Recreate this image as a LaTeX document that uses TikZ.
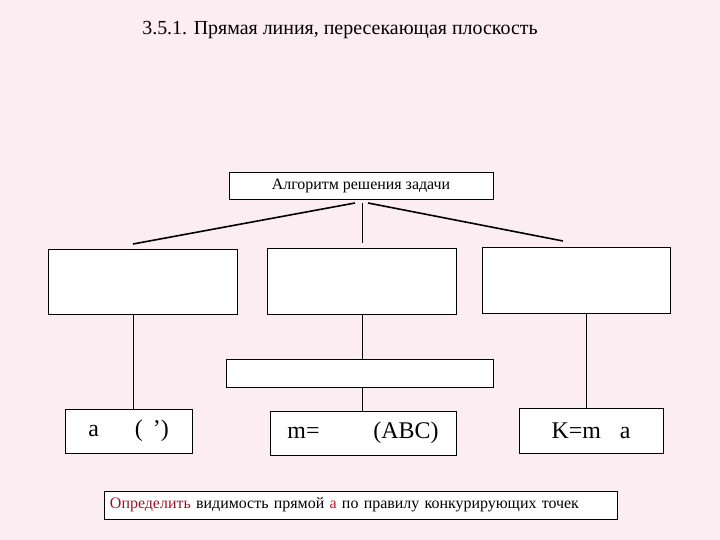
\documentclass[tikz,border=0pt]{standalone}
\usepackage{fontspec}
\setmainfont{Liberation Serif}
\usetikzlibrary{calc, positioning}
\definecolor{pagebg}{RGB}{252,237,242}
\definecolor{darkred}{RGB}{150,20,40}
\definecolor{redletter}{RGB}{200,20,40}

\begin{document}
\begin{tikzpicture}[x=1bp, y=-1bp, line width=0.8bp]
        % --- STILI ---
        \tikzset{
            box/.style={draw, rectangle, fill=white, inner sep=0pt, anchor=center},
            thinline/.style={line width=0.8bp},
            thickline/.style={line width=1.6bp},
            titletext/.style={font=\fontsize{20}{24}\selectfont},
            bigtext/.style={font=\fontsize{24}{28}\selectfont},
            smalltext/.style={font=\fontsize{16}{19}\selectfont}
        }

        % --- SFONDO ---
        \fill [pagebg] (0,0) rectangle (720,540);
        \useasboundingbox (0,0) rectangle (720,540);

        % --- TITOLO ---
        \node [titletext] (title) at (340,30) {3.5.1. Прямая линия, пересекающая плоскость};

        % --- LIVELLO 1 ---
        \node [box, smalltext, minimum width=264bp, minimum height=27bp] (algo) at (361,185.5) {Алгоритм решения задачи};

        % --- LIVELLO 2 ---
        \node [box, minimum width=189bp, minimum height=65bp] (step_a) at (142.5,281.5) {};
        \node [box, minimum width=189bp, minimum height=66bp] (step_m) at (361.5,281) {};
        \node [box, minimum width=188bp, minimum height=66bp] (step_k) at (576,280) {};
        \node [box, minimum width=267bp, minimum height=28bp] (mid_m) at (359.5,373) {};

        % --- LIVELLO 3 ---
        \node [box, bigtext, minimum width=127bp, minimum height=44bp] (res_a) at (128.5,431) {a\hspace{36bp}(\hspace{10bp}')};
        \node [box, bigtext, minimum width=186bp, minimum height=44bp] (res_m) at (363,433) {m=\hspace{54bp}(ABC)\hspace{11bp}};
        \node [box, bigtext, minimum width=144bp, minimum height=45bp] (res_k) at (591,430.5) {K=m\hspace{19bp}a\hspace{6bp}};

        % --- VISIBILITA ---
        \node [box, smalltext, text width=501bp, inner xsep=6bp, minimum height=28bp, align=left] (vis) at (360.5,505)
            {\textcolor{darkred}{Определить} видимость прямой \textcolor{redletter}{а} по правилу конкурирующих точек};

        % --- CONNESSIONI ---
        \coordinate (fork_l) at (355,203);
        \coordinate (fork_c) at (362,203);
        \coordinate (fork_r) at (368,203);
        \coordinate (tip_l) at (133,244);
        \coordinate (tip_c) at (362,243);
        \coordinate (tip_r) at (563,241);
        \draw [thickline] (fork_l) -- (tip_l);
        \draw [thinline] (fork_c) -- (tip_c);
        \draw [thickline] (fork_r) -- (tip_r);

        \coordinate (col_a) at (133,0);
        \coordinate (col_m) at (362,0);
        \coordinate (col_k) at (586,0);
        \draw [thinline] (col_a |- step_a.south) -- (col_a |- res_a.north);
        \draw [thinline] (col_m |- step_m.south) -- (col_m |- mid_m.north);
        \draw [thinline] (col_m |- mid_m.south) -- (col_m |- res_m.north);
        \draw [thinline] (col_k |- step_k.south) -- (col_k |- res_k.north);

    \end{tikzpicture}
\end{document}
